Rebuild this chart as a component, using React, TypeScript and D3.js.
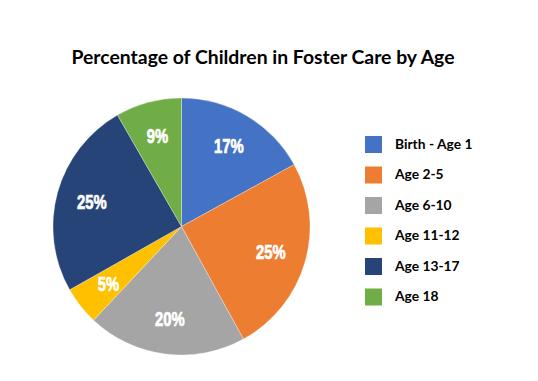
import React from "react";
import * as d3 from "d3";

const categories = ["Birth - Age 1", "Age 2-5", "Age 6-10", "Age 11-12", "Age 13-17", "Age 18"];
const shares = [17, 25, 20, 4.8, 24.9, 8.3];
const shareLabels = ["17%", "25%", "20%", "5%", "25%", "9%"];
const colors = ["#4472C4", "#ED7D31", "#A5A5A5", "#FFC000", "#264478", "#70AD47"];
const title = "Percentage of Children in Foster Care by Age";

const W = 538;
const H = 381;

export default function App() {
  const cx = 181.5;
  const cy = 226.5;
  const r = 128.5;
  const pie = d3.pie<number>().value((d) => d).sort(null);
  const arcs = pie(shares);
  const arc = d3.arc<d3.PieArcDatum<number>>().innerRadius(0).outerRadius(r);
  const labelArc = d3.arc<d3.PieArcDatum<number>>().innerRadius(93).outerRadius(93);

  const legendY = d3.scaleBand<string>().domain(categories).range([136, 136 + 30.5 * 6]).paddingInner(0);

  return (
    <svg width={W} height={H} style={{ position: "absolute", left: 0, top: 0, background: "#fff" }}>
      <rect width={W} height={H} fill="#fff" />
      <text
        x={263}
        y={64}
        textAnchor="middle"
        fontFamily="Lato, 'Open Sans', sans-serif"
        fontWeight="bold"
        fontSize={19}
        textLength={383}
        lengthAdjust="spacingAndGlyphs"
        fill="#000"
      >
        {title}
      </text>
      <g transform={`translate(${cx},${cy})`}>
        {arcs.map((a, i) => (
          <path key={i} d={arc(a) || ""} fill={colors[i]} stroke="#fff" strokeWidth={0.3} />
        ))}
        {arcs.map((a, i) => {
          const [x, y] = labelArc.centroid(a);
          return (
            <text
              key={i}
              transform={`translate(${x},${y}) scale(0.76,1)`}
              textAnchor="middle"
              dominantBaseline="central"
              fontFamily="'Liberation Sans', Arial, sans-serif"
              fontWeight="bold"
              fontSize={19.5}
              fill="#fff"
              stroke="#fff"
              strokeWidth={0.7}
            >
              {shareLabels[i]}
            </text>
          );
        })}
      </g>
      <g>
        {categories.map((c, i) => {
          const y = legendY(c) as number;
          return (
            <g key={c}>
              <rect x={365} y={y} width={17} height={17} fill={colors[i]} />
              <text
                x={395}
                y={y + 12.5}
                fontFamily="Lato, 'Open Sans', sans-serif"
                fontWeight="bold"
                fontSize={13.8}
                fill="#000"
              >
                {c}
              </text>
            </g>
          );
        })}
      </g>
    </svg>
  );
}
